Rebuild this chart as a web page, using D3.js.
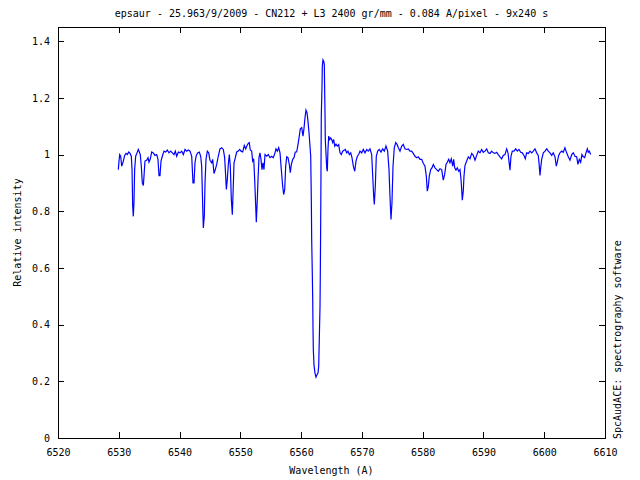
<!DOCTYPE html>
<html>
<head>
<meta charset="utf-8">
<script src="https://cdn.jsdelivr.net/npm/d3@7"></script>
<style>
  html, body { margin: 0; padding: 0; background: #fff; }
  svg { display: block; }
  text { font-family: "DejaVu Sans Mono", "Liberation Mono", monospace; font-size: 10px; fill: #000; }
</style>
</head>
<body>
<svg id="chart" width="640" height="480"></svg>
<script>
const titleText = "epsaur - 25.963/9/2009 - CN212 + L3 2400 gr/mm - 0.084 A/pixel - 9x240 s";
const xLabel = "Wavelength (A)";
const yLabel = "Relative intensity";
const sideText = "SpcAudACE: spectrography software";

const xTicks = [6520, 6530, 6540, 6550, 6560, 6570, 6580, 6590, 6600, 6610];
const yTicks = [0, 0.2, 0.4, 0.6, 0.8, 1, 1.2, 1.4];
const xDomain = [6520, 6610];
const yDomain = [0, 1.45];

const wavelength = [
6529.92,6530.04,6530.15,6530.31,6530.48,6530.58,6530.75,6530.97,6531.19,6531.40,6531.63,6531.85,6532.06,6532.18,6532.29,6532.39,6532.50,6532.61,6532.78,6533.00,
6533.21,6533.38,6533.54,6533.71,6533.87,6534.04,6534.15,6534.31,6534.59,6534.81,6534.97,6535.19,6535.42,6535.68,6535.96,6536.24,6536.45,6536.62,6536.78,6536.95,
6537.16,6537.44,6537.72,6537.98,6538.26,6538.54,6538.81,6539.09,6539.30,6539.53,6539.80,6540.07,6540.35,6540.62,6540.90,6541.17,6541.44,6541.72,6542.00,6542.21,
6542.38,6542.54,6542.75,6542.98,6543.25,6543.48,6543.64,6543.81,6543.91,6544.07,6544.19,6544.35,6544.57,6544.79,6545.01,6545.29,6545.45,6545.67,6545.88,6546.11,
6546.37,6546.65,6546.93,6547.20,6547.42,6547.59,6547.70,6547.86,6548.02,6548.19,6548.35,6548.52,6548.68,6548.84,6548.96,6549.18,6549.40,6549.67,6549.89,6550.11,
6550.39,6550.65,6550.88,6551.10,6551.31,6551.47,6551.64,6551.87,6552.03,6552.20,6552.36,6552.53,6552.63,6552.79,6552.91,6553.07,6553.23,6553.40,6553.56,6553.73,
6553.89,6554.06,6554.34,6554.60,6554.88,6555.16,6555.42,6555.70,6555.87,6556.08,6556.31,6556.53,6556.74,6556.97,6557.13,6557.30,6557.46,6557.63,6557.84,6558.06,
6558.22,6558.39,6558.62,6558.83,6559.04,6559.27,6559.49,6559.70,6559.87,6560.10,6560.31,6560.47,6560.64,6560.80,6560.97,6561.13,6561.30,6561.46,6561.58,6561.68,
6561.74,6561.84,6561.91,6561.96,6562.01,6562.12,6562.28,6562.45,6562.61,6562.78,6562.89,6562.99,6563.11,6563.16,6563.22,6563.27,6563.32,6563.44,6563.49,6563.60,
6563.71,6563.82,6563.87,6563.93,6563.98,6564.09,6564.21,6564.31,6564.42,6564.54,6564.70,6564.87,6565.03,6565.20,6565.36,6565.53,6565.74,6565.95,6566.18,6566.40,
6566.61,6566.84,6567.06,6567.27,6567.50,6567.71,6567.93,6568.16,6568.37,6568.59,6568.82,6569.03,6569.25,6569.47,6569.69,6569.97,6570.23,6570.51,6570.79,6571.05,
6571.33,6571.61,6571.78,6571.94,6572.04,6572.21,6572.37,6572.60,6572.86,6573.14,6573.42,6573.69,6573.96,6574.24,6574.46,6574.62,6574.79,6574.95,6575.12,6575.33,
6575.56,6575.78,6576.00,6576.27,6576.55,6576.81,6577.09,6577.37,6577.63,6577.91,6578.19,6578.45,6578.74,6579.02,6579.28,6579.56,6579.84,6580.10,6580.38,6580.60,
6580.76,6580.93,6581.09,6581.32,6581.53,6581.75,6582.03,6582.31,6582.57,6582.85,6583.13,6583.39,6583.62,6583.84,6584.05,6584.28,6584.49,6584.71,6584.94,6585.10,
6585.27,6585.48,6585.70,6585.93,6586.14,6586.31,6586.42,6586.52,6586.68,6586.80,6586.96,6587.24,6587.51,6587.79,6588.07,6588.33,6588.61,6588.89,6589.15,6589.43,
6589.71,6589.97,6590.25,6590.53,6590.80,6591.08,6591.35,6591.62,6591.90,6592.18,6592.44,6592.72,6593.00,6593.26,6593.54,6593.82,6594.04,6594.20,6594.37,6594.53,
6594.75,6595.03,6595.31,6595.57,6595.85,6596.13,6596.39,6596.67,6596.88,6597.11,6597.38,6597.66,6597.94,6598.20,6598.48,6598.76,6599.02,6599.19,6599.30,6599.42,
6599.58,6599.85,6600.13,6600.41,6600.67,6600.95,6601.23,6601.49,6601.77,6601.99,6602.15,6602.38,6602.59,6602.87,6603.13,6603.41,6603.69,6603.96,6604.24,6604.52,
6604.78,6605.06,6605.34,6605.55,6605.77,6606.00,6606.21,6606.43,6606.66,6606.87,6607.09,6607.25,6607.42,6607.64
];

const intensity = [
0.947,0.977,1.000,0.994,0.959,0.965,0.977,0.997,1.004,1.000,1.009,1.004,0.994,0.947,0.818,0.782,0.830,0.947,0.994,1.006,
1.018,1.009,1.000,0.959,0.900,0.891,0.924,0.977,0.980,0.989,0.973,0.985,1.009,1.006,0.997,1.000,0.983,0.926,0.926,0.977,
0.994,1.012,1.009,1.016,1.006,1.012,1.006,1.000,1.012,0.994,1.009,1.006,1.012,1.000,1.018,1.012,1.016,1.012,0.994,0.900,
0.900,0.971,0.997,1.006,1.009,0.994,0.959,0.818,0.741,0.782,0.900,0.983,1.012,1.006,0.980,0.971,0.983,0.933,0.947,0.965,
0.994,1.020,1.024,1.018,0.989,0.924,0.877,0.912,0.965,1.000,0.959,0.841,0.788,0.888,0.971,0.989,1.009,1.012,1.018,1.012,
1.009,1.032,1.020,1.032,1.039,1.042,1.016,1.012,0.977,0.985,0.912,0.818,0.761,0.841,0.912,0.989,1.006,0.983,0.947,0.971,
0.947,1.000,0.994,1.000,0.989,0.994,0.989,1.006,1.020,1.012,1.024,1.006,0.947,0.888,0.859,0.877,0.959,0.992,0.989,0.965,
0.936,0.965,0.983,0.989,1.009,1.009,1.036,1.065,1.091,1.095,1.065,1.091,1.130,1.157,1.148,1.118,1.077,1.030,0.994,0.841,
0.700,0.582,0.488,0.382,0.311,0.258,0.229,0.215,0.223,0.229,0.252,0.346,0.464,0.582,0.759,0.936,1.136,1.242,1.312,1.334,
1.329,1.318,1.230,1.148,1.053,1.006,0.953,0.941,1.018,1.065,1.053,1.059,1.053,1.042,1.053,1.030,1.037,1.030,1.035,1.006,
1.000,1.012,1.015,1.018,1.006,1.012,1.000,1.006,0.989,0.959,0.941,0.977,0.994,1.000,1.012,1.006,1.018,1.006,1.018,1.012,
1.020,1.000,0.924,0.853,0.824,0.888,0.994,1.012,1.018,1.009,1.020,1.012,1.030,1.012,0.947,0.853,0.771,0.830,0.959,1.024,
1.042,1.036,1.024,1.012,1.030,1.036,1.020,1.018,1.020,1.012,1.012,1.004,0.994,0.989,0.992,0.983,0.983,0.969,0.959,0.924,
0.871,0.888,0.924,0.947,0.953,0.965,0.953,0.947,0.941,0.950,0.947,0.910,0.930,0.965,0.973,0.983,0.971,0.985,0.959,0.983,
0.953,0.945,0.953,0.941,0.947,0.912,0.877,0.839,0.871,0.924,0.961,0.977,0.992,0.985,1.004,0.997,0.980,0.997,1.012,1.006,
1.018,1.008,1.012,1.020,1.006,1.004,1.012,1.006,1.004,1.008,1.000,0.992,0.985,0.997,1.000,1.020,1.006,0.977,0.945,0.994,
1.012,1.012,1.020,1.012,1.018,1.008,1.006,0.997,0.985,1.006,1.004,1.012,1.006,1.012,1.020,1.006,0.997,0.959,0.926,0.953,
0.983,1.006,1.012,1.020,1.012,1.006,0.997,1.006,0.992,0.959,0.973,0.997,1.006,1.012,1.008,1.024,1.006,0.992,0.980,1.000,
1.006,0.994,0.992,0.965,0.983,0.973,1.000,0.992,0.989,1.006,1.020,1.008,1.012,1.000
];

const data = wavelength.map((w, i) => ({ x: w, y: intensity[i] }));

const L = 58, R = 605, T = 27, B = 438;
const svg = d3.select("#chart");

const x = d3.scaleLinear().domain(xDomain).range([L, R]);
const y = d3.scaleLinear().domain(yDomain).range([B, T]);

// axes with inward ticks
const gx = svg.append("g").attr("transform", `translate(0,${B})`)
  .call(d3.axisBottom(x).tickValues(xTicks).tickSizeInner(-6).tickSizeOuter(0).tickPadding(11).tickFormat(d3.format("d")));
const gxt = svg.append("g").attr("transform", `translate(0,${T})`)
  .call(d3.axisTop(x).tickValues(xTicks).tickSizeInner(-6).tickSizeOuter(0).tickFormat(""));
const gy = svg.append("g").attr("transform", `translate(${L},0)`)
  .call(d3.axisLeft(y).tickValues(yTicks).tickSizeInner(-6).tickSizeOuter(0).tickPadding(8).tickFormat(d => d3.format("")(+d.toFixed(1))));
const gyr = svg.append("g").attr("transform", `translate(${R},0)`)
  .call(d3.axisRight(y).tickValues(yTicks).tickSizeInner(-6).tickSizeOuter(0).tickFormat(""));

[gx, gxt, gy, gyr].forEach(g => {
  g.select(".domain").remove();
  g.selectAll(".tick line").attr("stroke", "#000").attr("shape-rendering", "crispEdges");
  g.selectAll("text").attr("font-family", "DejaVu Sans Mono").attr("font-size", 10).attr("fill", "#000");
});

// frame
svg.append("rect")
  .attr("x", L + 0.5).attr("y", T + 0.5)
  .attr("width", R - L).attr("height", B - T)
  .attr("fill", "none").attr("stroke", "#000").attr("stroke-width", 1)
  .attr("shape-rendering", "crispEdges");

// spectrum
const line = d3.line().x(d => x(d.x)).y(d => y(d.y));
svg.append("path")
  .datum(data)
  .attr("d", line)
  .attr("fill", "none")
  .attr("stroke", "#0000ff")
  .attr("stroke-width", 1.2)
  .attr("stroke-linejoin", "miter");

// texts
svg.append("text").attr("x", (L + R) / 2).attr("y", 17).attr("text-anchor", "middle").text(titleText);
svg.append("text").attr("x", (L + R) / 2).attr("y", 474).attr("text-anchor", "middle").text(xLabel);
svg.append("text").attr("transform", `translate(21,${(T + B) / 2}) rotate(-90)`).attr("text-anchor", "middle").text(yLabel);
svg.append("text").attr("transform", `translate(621,439) rotate(-90)`).attr("text-anchor", "start").text(sideText);
</script>
</body>
</html>
